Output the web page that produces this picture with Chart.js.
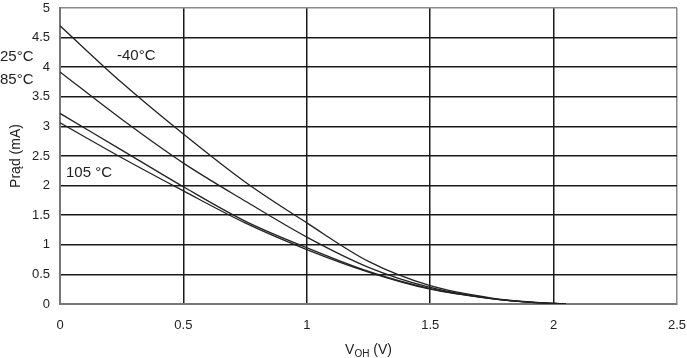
<!DOCTYPE html>
<html>
<head>
<meta charset="utf-8">
<script src="https://cdn.jsdelivr.net/npm/chart.js@4/dist/chart.umd.min.js"></script>
<style>
  html, body { margin: 0; padding: 0; background: #fff; }
  #wrap { width: 687px; height: 358px; position: relative; }
</style>
</head>
<body>
<div id="wrap"><canvas id="c" width="687" height="358"></canvas></div>
<script>
// Voltage samples (V)
const voltage = [0, 0.25, 0.5, 0.75, 1.0, 1.25, 1.5, 1.75, 1.9, 2.0, 2.05];
// Current (mA) per temperature
const cur_m40 = [4.70, 3.74, 2.87, 2.06, 1.37, 0.72, 0.31, 0.10, 0.035, 0.01, 0.0];
const cur_25  = [3.92, 3.12, 2.38, 1.74, 1.13, 0.62, 0.28, 0.09, 0.03, 0.01, 0.0];
const cur_85  = [3.22, 2.60, 1.98, 1.40, 0.95, 0.55, 0.26, 0.09, 0.03, 0.01, 0.0];
const cur_105 = [3.06, 2.47, 1.91, 1.37, 0.92, 0.54, 0.25, 0.09, 0.03, 0.01, 0.0];
const seriesNames = ['-40°C', '25°C', '85°C', '105 °C'];
const xTicks = [0, 0.5, 1, 1.5, 2, 2.5];
const yTicks = [0, 0.5, 1, 1.5, 2, 2.5, 3, 3.5, 4, 4.5, 5];
const xTitle = ['V', 'OH', ' (V)'];
const yTitle = 'Prąd (mA)';

const FONT = '"Liberation Sans", Arial, sans-serif';
const pts = arr => voltage.map((v, i) => ({ x: v, y: arr[i] }));
const mk = (name, arr) => ({
  label: name, data: pts(arr), showLine: true, borderColor: '#222', borderWidth: 1.3,
  pointRadius: 0, cubicInterpolationMode: 'monotone', fill: false
});

const annot = {
  id: 'annot',
  afterDraw(chart) {
    const ctx = chart.ctx;
    const xs = chart.scales.x, ys = chart.scales.y;
    ctx.save();
    ctx.fillStyle = '#222';
    ctx.font = '15px ' + FONT;
    ctx.textBaseline = 'middle';
    ctx.textAlign = 'left';
    ctx.fillText(seriesNames[0], 117, 56);
    ctx.fillText(seriesNames[1], 0, 57);
    ctx.fillText(seriesNames[2], 0, 80);
    ctx.fillText(seriesNames[3], 66, 173);
    // x title with subscript
    ctx.textBaseline = 'alphabetic';
    ctx.font = '14px ' + FONT;
    const w1 = ctx.measureText(xTitle[0]).width;
    ctx.font = '10px ' + FONT;
    const w2 = ctx.measureText(xTitle[1]).width;
    ctx.font = '14px ' + FONT;
    const w3 = ctx.measureText(xTitle[2]).width;
    const cx = (xs.left + xs.right) / 2;
    let x0 = cx - (w1 + w2 + w3) / 2;
    const base = 354;
    ctx.fillText(xTitle[0], x0, base);
    ctx.font = '10px ' + FONT;
    ctx.fillText(xTitle[1], x0 + w1, base + 3);
    ctx.font = '14px ' + FONT;
    ctx.fillText(xTitle[2], x0 + w1 + w2, base);
    // y title
    ctx.translate(16, (ys.top + ys.bottom) / 2);
    ctx.rotate(-Math.PI / 2);
    ctx.textAlign = 'center';
    ctx.textBaseline = 'middle';
    ctx.fillText(yTitle, 0, 0);
    ctx.restore();
  }
};

new Chart(document.getElementById('c'), {
  type: 'scatter',
  data: { datasets: [mk(seriesNames[0], cur_m40), mk(seriesNames[1], cur_25), mk(seriesNames[2], cur_85), mk(seriesNames[3], cur_105)] },
  options: {
    responsive: false, animation: false, devicePixelRatio: 1,
    layout: { padding: { top: 8, right: 10, left: 0, bottom: 0 } },
    plugins: { legend: { display: false }, tooltip: { enabled: false } },
    scales: {
      x: {
        type: 'linear', min: 0, max: 2.5,
        afterBuildTicks: s => { s.ticks = xTicks.map(v => ({ value: v })); },
        afterFit: s => { s.height = 54; s.paddingLeft = 0; s.paddingRight = 0; },
        ticks: { padding: 14, color: '#222', font: { family: FONT, size: 13 }, maxRotation: 0,
                 callback: v => String(v) },
        grid: { drawTicks: false, lineWidth: 1.5,
                color: c => (c.tick && c.tick.value === 2.5) ? '#8a8a8a' : '#1a1a1a' },
        border: { color: '#777', width: 2 }
      },
      y: {
        type: 'linear', min: 0, max: 5,
        afterBuildTicks: s => { s.ticks = yTicks.map(v => ({ value: v })); },
        afterFit: s => { s.width = 60; s.paddingTop = 0; s.paddingBottom = 0; },
        ticks: { padding: 10, color: '#222', font: { family: FONT, size: 13 },
                 callback: v => String(v) },
        grid: { drawTicks: false, lineWidth: 1.5,
                color: c => (c.tick && c.tick.value === 5) ? '#8a8a8a' : '#1a1a1a' },
        border: { color: '#777', width: 2 }
      }
    }
  },
  plugins: [annot]
});
</script>
</body>
</html>
